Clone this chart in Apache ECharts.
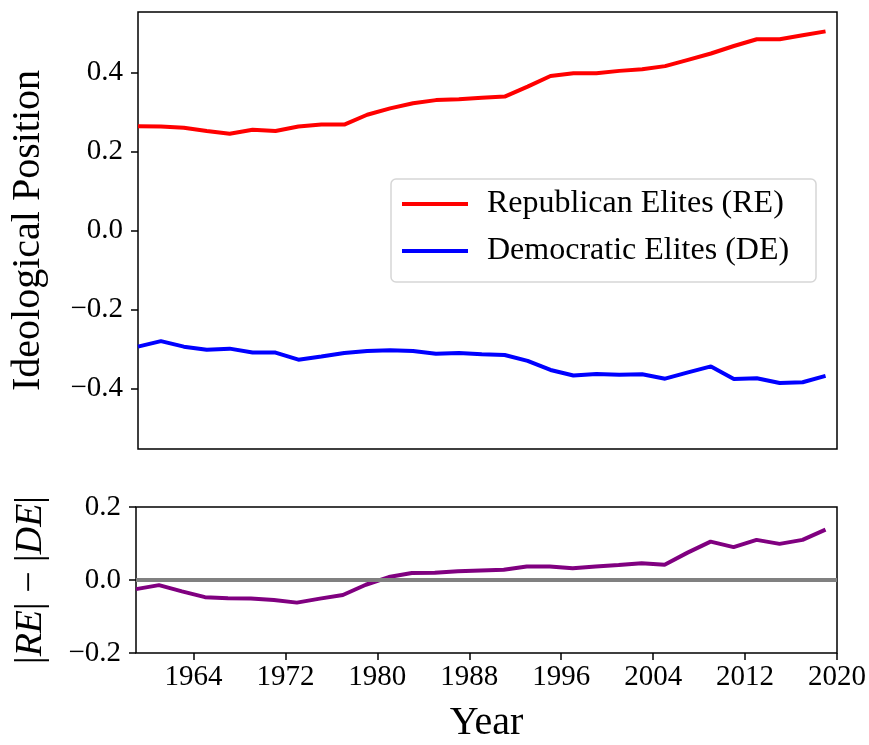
<!DOCTYPE html>
<html>
<head>
<meta charset="utf-8">
<script src="https://cdn.jsdelivr.net/npm/echarts@6/dist/echarts.min.js"></script>
<style>
  html, body { margin: 0; padding: 0; background: #fff; }
  #chart { width: 869px; height: 745px; }
</style>
</head>
<body>
<div id="chart"></div>
<script>
// congress years (every two years)
const years = [1959, 1961, 1963, 1965, 1967, 1969, 1971, 1973, 1975, 1977, 1979, 1981, 1983, 1985, 1987, 1989,
  1991, 1993, 1995, 1997, 1999, 2001, 2003, 2005, 2007, 2009, 2011, 2013, 2015, 2017, 2019]

const republican = [0.264, 0.263, 0.260, 0.252, 0.245, 0.255, 0.252, 0.263, 0.268, 0.268, 0.293, 0.309, 0.322,
  0.330, 0.332, 0.336, 0.339, 0.364, 0.391, 0.398, 0.398, 0.404, 0.408, 0.416, 0.432, 0.448, 0.467, 0.484,
  0.484, 0.494, 0.504]

const democratic = [-0.294, -0.280, -0.294, -0.302, -0.299, -0.309, -0.309, -0.327, -0.319, -0.310, -0.305,
  -0.303, -0.305, -0.312, -0.310, -0.313, -0.315, -0.330, -0.353, -0.367, -0.363, -0.365, -0.364, -0.375,
  -0.359, -0.344, -0.376, -0.374, -0.386, -0.384, -0.368]

const gap = [-0.025, -0.014, -0.031, -0.047, -0.050, -0.051, -0.055, -0.062, -0.051, -0.041, -0.013, 0.008,
  0.019, 0.020, 0.024, 0.026, 0.028, 0.037, 0.037, 0.032, 0.037, 0.041, 0.046, 0.042, 0.075, 0.105, 0.090,
  0.110, 0.099, 0.110, 0.138]

const xTicks = [1964, 1972, 1980, 1988, 1996, 2004, 2012, 2020]
const topTicks = [-0.4, -0.2, 0.0, 0.2, 0.4]
const bottomTicks = [-0.2, 0.0, 0.2]

const font = '"Liberation Serif", "DejaVu Serif", serif'
const fmt = (v) => v.toFixed(1).replace('-', '\u2212')
const pairs = (vals) => years.map((y, i) => [y, vals[i]])

const chart = echarts.init(document.getElementById('chart'))

const yAxisBase = {
  type: 'value',
  axisLine: { show: false, onZero: false },
  axisTick: { show: true, inside: false, length: 7, lineStyle: { color: '#000', width: 1.5 } },
  axisLabel: { color: '#000', fontFamily: font, fontSize: 29, margin: 15, formatter: fmt },
  splitLine: { show: false },
  nameLocation: 'middle',
  nameTextStyle: { color: '#000', fontFamily: font, fontSize: 40 },
}

const option = {
  animation: false,
  backgroundColor: '#fff',
  grid: [
    { left: 136, top: 12, width: 701, height: 437, show: true, borderColor: '#000', borderWidth: 1.5 },
    { left: 136, top: 507, width: 701, height: 146, show: true, borderColor: '#000', borderWidth: 1.5 },
  ],
  xAxis: [
    {
      type: 'value', gridIndex: 0, min: 1959, max: 2020,
      axisLine: { show: false, onZero: false }, axisTick: { show: false }, axisLabel: { show: false },
      splitLine: { show: false },
    },
    {
      type: 'value', gridIndex: 1, min: 1959, max: 2020, position: 'bottom',
      axisLine: { show: false, onZero: false },
      axisTick: { show: true, length: 7, customValues: xTicks, lineStyle: { color: '#000', width: 1.5 } },
      axisLabel: {
        color: '#000', fontFamily: font, fontSize: 29, margin: 10, customValues: xTicks,
        formatter: (v) => String(v),
      },
      splitLine: { show: false },
      name: 'Year', nameLocation: 'middle', nameGap: 50,
      nameTextStyle: { color: '#000', fontFamily: font, fontSize: 40 },
    },
  ],
  yAxis: [
    {
      ...yAxisBase, gridIndex: 0, min: -0.553, max: 0.553,
      axisTick: { ...yAxisBase.axisTick, customValues: topTicks },
      axisLabel: { ...yAxisBase.axisLabel, customValues: topTicks },
      name: 'Ideological Position', nameGap: 90,
    },
    {
      ...yAxisBase, gridIndex: 1, min: -0.2, max: 0.2,
      axisTick: { ...yAxisBase.axisTick, customValues: bottomTicks },
      axisLabel: { ...yAxisBase.axisLabel, customValues: bottomTicks },
      name: '|{i|RE}| \u2212 |{i|DE}|', nameGap: 86,
      nameTextStyle: {
        ...yAxisBase.nameTextStyle, fontSize: 38,
        rich: { i: { fontFamily: font, fontSize: 38, fontStyle: 'italic', color: '#000' } },
      },
    },
  ],
  legend: {
    data: ['Republican Elites (RE)', 'Democratic Elites (DE)'],
    orient: 'vertical',
    left: 391,
    top: 179,
    icon: 'rect',
    itemWidth: 66,
    itemHeight: 4,
    itemGap: 13,
    padding: [8, 18, 14, 11],
    backgroundColor: 'rgba(255,255,255,0.8)',
    borderColor: '#d6d6d6',
    borderWidth: 1.5,
    borderRadius: 5,
    textStyle: { color: '#000', fontFamily: font, fontSize: 32, lineHeight: 34, width: 311, padding: [0, 0, 0, 14] },
  },
  series: [
    {
      name: 'Republican Elites (RE)', type: 'line', xAxisIndex: 0, yAxisIndex: 0,
      data: pairs(republican), showSymbol: false, lineStyle: { color: '#ff0000', width: 4 },
      itemStyle: { color: '#ff0000' },
    },
    {
      name: 'Democratic Elites (DE)', type: 'line', xAxisIndex: 0, yAxisIndex: 0,
      data: pairs(democratic), showSymbol: false, lineStyle: { color: '#0000ff', width: 4 },
      itemStyle: { color: '#0000ff' },
    },
    {
      name: 'zero', type: 'line', xAxisIndex: 1, yAxisIndex: 1, data: [], z: 1,
      markLine: {
        silent: true, symbol: 'none', label: { show: false },
        lineStyle: { color: '#808080', width: 4, type: 'solid' },
        data: [{ yAxis: 0 }],
      },
    },
    {
      name: 'gap', type: 'line', xAxisIndex: 1, yAxisIndex: 1, z: 3,
      data: pairs(gap), showSymbol: false, lineStyle: { color: '#800080', width: 4 },
      itemStyle: { color: '#800080' },
    },
  ],
}

chart.setOption(option)

window.addEventListener('resize', () => {
  chart.resize()
})
</script>
</body>
</html>
